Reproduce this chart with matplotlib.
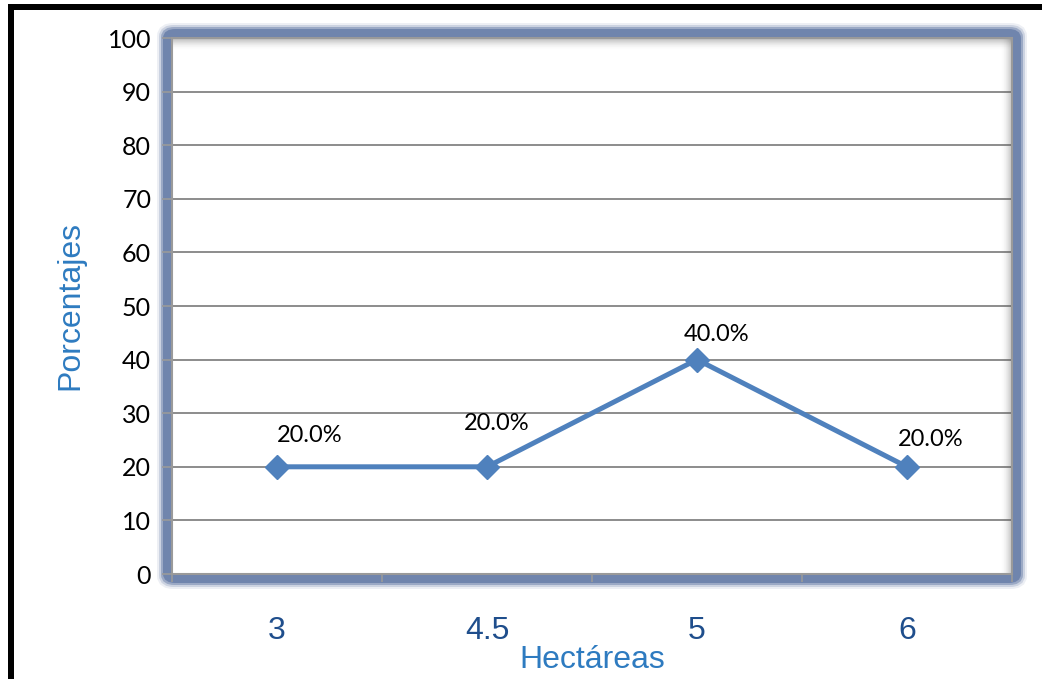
import matplotlib
matplotlib.use("Agg")
import matplotlib.pyplot as plt
from matplotlib.patches import FancyBboxPatch
from matplotlib.lines import Line2D

categories = ["3", "4.5", "5", "6"]
values = [20, 20, 40, 20]
labels = ["20.0%", "20.0%", "40.0%", "20.0%"]
label_offsets_px = [(33, 31), (10, 43), (20, 25), (24, 27)]
yticks = list(range(0, 101, 10))

W, H = 1042, 679
fig = plt.figure(figsize=(W / 100, H / 100), dpi=100)
fig.patch.set_facecolor("white")

L, R, T, B = 172, 1012, 38, 574
ax = fig.add_axes([L / W, 1 - B / H, (R - L) / W, (B - T) / H])

# Blue glow frame around plot area (pixel coords -> figure fraction)
def frame(pad, lw, color, alpha):
    x0 = (L - pad) / W
    y0 = 1 - (B + pad) / H
    w = (R - L + 2 * pad) / W
    h = (B - T + 2 * pad) / H
    p = FancyBboxPatch((x0, y0), w, h, boxstyle="round,pad=0,rounding_size=0.008",
                       transform=fig.transFigure, fill=False, edgecolor=color,
                       linewidth=lw, alpha=alpha, zorder=-1)
    fig.add_artist(p)

frame(7, 16 * 0.72, "#6C81AB", 0.12)
frame(6.5, 13 * 0.72, "#6C81AB", 0.25)
frame(6, 10 * 0.72, "#6C81AB", 0.5)
frame(5, 8 * 0.72, "#6C81AB", 0.9)

# Black outer border (top and left only)
fig.add_artist(Line2D([8 / W, 1.0], [1 - 7 / H, 1 - 7 / H], transform=fig.transFigure,
                      color="black", linewidth=6 * 0.72, solid_capstyle="butt"))
fig.add_artist(Line2D([11 / W, 11 / W], [1 - 4 / H, 0], transform=fig.transFigure,
                      color="black", linewidth=6 * 0.72, solid_capstyle="butt"))

ax.set_facecolor("white")
x = list(range(len(categories)))
ax.set_xlim(-0.5, len(categories) - 0.5)
ax.set_ylim(0, 100)

# inner shadow on top and right
for i in range(12):
    a = 0.35 * (1 - i / 12) ** 2
    ax.add_artist(Line2D([0, 1], [1 - i / (B - T), 1 - i / (B - T)], transform=ax.transAxes,
                         color="#555555", alpha=a, linewidth=0.9, zorder=1))
    ax.add_artist(Line2D([1 - i / (R - L), 1 - i / (R - L)], [0, 1], transform=ax.transAxes,
                         color="#555555", alpha=a, linewidth=0.9, zorder=1))

ax.set_yticks(yticks)
ax.yaxis.grid(True, color="#8C8C8C", linewidth=1.4)
ax.set_axisbelow(True)

ax.plot(x, values, color="#4F81BD", linewidth=5 * 0.72, marker="D",
        markersize=12, markerfacecolor="#4F81BD", markeredgecolor="#4F81BD", zorder=5,
        clip_on=False)

for xi, v, lab, (dx, dy) in zip(x, values, labels, label_offsets_px):
    ax.annotate(lab, (xi, v), xytext=(dx * 0.72, dy * 0.72), textcoords="offset points",
                ha="center", va="center", fontsize=17, family="Lato", color="black")

for s in ["left", "bottom", "top", "right"]:
    ax.spines[s].set_color("#9A9A9A")
    ax.spines[s].set_linewidth(1.5)

ax.set_xticks([i + 0.5 for i in range(-1, len(categories))], minor=False)
ax.set_xticklabels([])
ax.tick_params(axis="x", which="major", length=6, width=1.2, color="#9A9A9A", direction="out")
ax.set_xticks(x, minor=True)
ax.set_xticklabels(categories, minor=True, fontsize=23, family="Liberation Sans", color="#1F4E8C")
ax.tick_params(axis="x", which="minor", length=0, pad=30)

ax.set_yticklabels([str(t) for t in yticks], fontsize=18, family="Lato", color="black")
ax.tick_params(axis="y", length=7, width=1.2, color="#9A9A9A", pad=8)

ax.set_xlabel("Hectáreas", fontsize=23, family="Liberation Sans", color="#2E7BC0")
ax.set_ylabel("Porcentajes", fontsize=23, family="Liberation Sans", color="#2E7BC0")
ax.xaxis.label.set_va("center")
ax.yaxis.label.set_va("center")
ax.xaxis.set_label_coords((592 - L) / (R - L), -(660 - B) / (B - T))
ax.yaxis.set_label_coords(-(L - 70) / (R - L), (B - 306) / (B - T))

fig.savefig("out.png", dpi=100, facecolor="white")
